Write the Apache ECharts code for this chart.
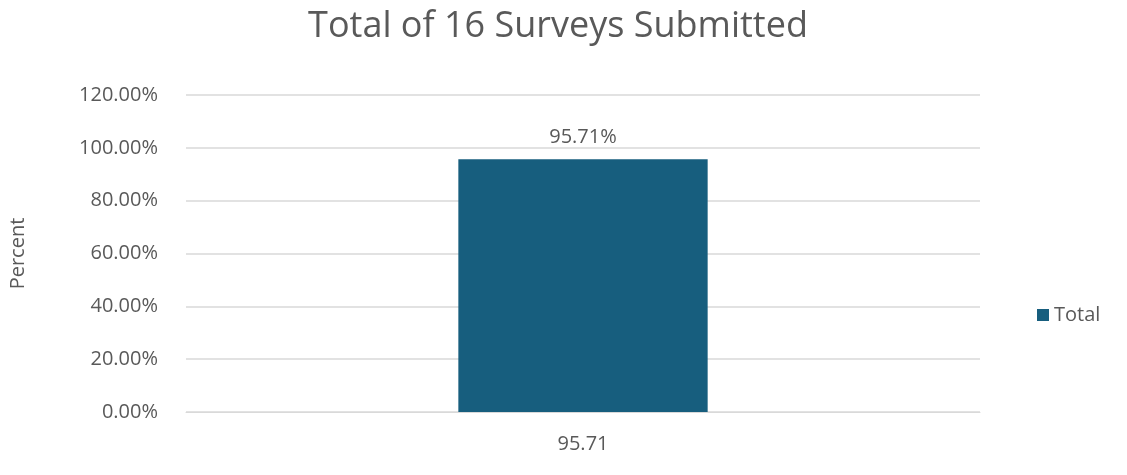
<!DOCTYPE html>
<html>
<head>
<meta charset="utf-8">
<script src="https://cdn.jsdelivr.net/npm/echarts@6/dist/echarts.min.js"></script>
<style>html,body{margin:0;padding:0;background:#fff}#chart{width:1127px;height:475px}</style>
</head>
<body>
<div id="chart"></div>
<script>
// data
const categories = ['95.71'];
const totalValues = [95.71];
const yTicks = [0, 20, 40, 60, 80, 100, 120];

const chart = echarts.init(document.getElementById('chart'));
chart.setOption({
    backgroundColor: '#fff',
    textStyle: { fontFamily: 'Open Sans, Liberation Sans, sans-serif' },
    title: {
        text: 'Total of 16 Surveys Submitted',
        left: 553, top: 4, textAlign: 'center',
        textStyle: { fontSize: 36, fontWeight: 'normal', color: '#595959' }
    },
    legend: {
        data: ['Total'], orient: 'vertical', left: 1032, top: 300,
        itemWidth: 12, itemHeight: 12, icon: 'rect',
        textStyle: { fontSize: 20, color: '#595959' }
    },
    grid: { left: 180, right: 147, top: 95, bottom: 63 },
    xAxis: {
        type: 'category', data: categories,
        axisLine: { lineStyle: { color: '#d9d9d9' } },
        axisTick: { show: false },
        axisLabel: { fontSize: 20, color: '#595959', margin: 22 }
    },
    yAxis: {
        type: 'value', min: yTicks[0], max: yTicks[yTicks.length - 1], interval: 20,
        name: 'Percent', nameLocation: 'middle', nameGap: 158, nameRotate: 90,
        nameTextStyle: { fontSize: 20, color: '#595959' },
        axisLabel: { fontSize: 20, color: '#595959', margin: 28, formatter: v => v.toFixed(2) + '%' },
        splitLine: { lineStyle: { color: '#d9d9d9', width: 1.5 } }
    },
    series: [{
        name: 'Total', type: 'bar', data: totalValues, barWidth: '31.4%',
        itemStyle: { color: '#175E7E' },
        label: { show: true, position: 'top', distance: 12, fontSize: 20, color: '#595959', formatter: p => p.value.toFixed(2) + '%' }
    }]
});
</script>
</body>
</html>
